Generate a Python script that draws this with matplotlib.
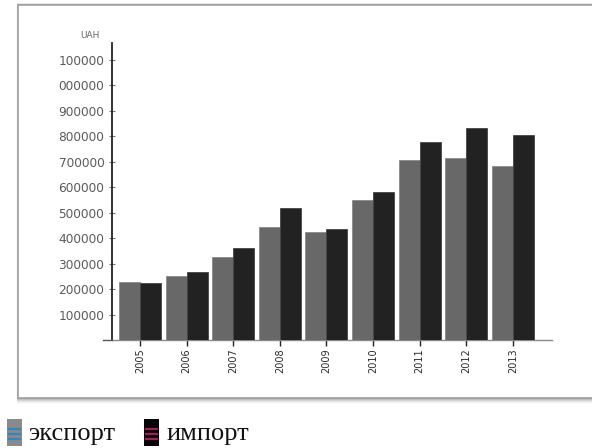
import matplotlib
matplotlib.use("Agg")
import matplotlib.pyplot as plt
from matplotlib.patches import Rectangle
import numpy as np

# Trade volumes, UAH
years = ["2005", "2006", "2007", "2008", "2009", "2010", "2011", "2012", "2013"]
export_vals = [229000, 251000, 324000, 445000, 425000, 549000, 706000, 715000, 682000]
import_vals = [222000, 268000, 362000, 518000, 435000, 579000, 778000, 830000, 804000]
y_ticks = [100000, 200000, 300000, 400000, 500000, 600000, 700000, 800000, 900000, 1000000, 1100000]
y_tick_labels = ["100000", "200000", "300000", "400000", "500000", "600000",
                 "700000", "800000", "900000", "000000", "100000"]
unit_label = "UAH"
legend_labels = ["экспорт", "импорт"]

W, H = 592, 448
fig = plt.figure(figsize=(W / 100, H / 100), dpi=100)
fig.patch.set_facecolor("white")


def fx(px):
    return px / W


def fy(py):
    return 1 - py / H


def box(x0, y0, x1, y1, **kw):
    """Rectangle in pixel coordinates (origin top-left)."""
    r = Rectangle((fx(x0), fy(y1)), fx(x1) - fx(x0), (y1 - y0) / H,
                  transform=fig.transFigure, **kw)
    fig.patches.append(r)
    return r


# soft drop shadow around the chart frame
for i, a in enumerate([0.12, 0.09, 0.07, 0.05, 0.03, 0.02]):
    d = i + 1
    box(18 - d * 0.3, 5 - d * 0.4, 620, 398 + d, facecolor="black",
        edgecolor="none", alpha=a, zorder=0)
# frame
box(18, 5, 620, 398, facecolor="white", edgecolor="#a0a0a0", linewidth=1.2, zorder=1)

# plot area
ax_left, ax_right, ax_top, ax_bottom = 112, 552, 43, 340
ax = fig.add_axes([fx(ax_left), fy(ax_bottom), fx(ax_right) - fx(ax_left),
                   (ax_bottom - ax_top) / H])
ax.set_zorder(2)
ax.patch.set_alpha(0)

x = np.arange(len(years))
bw = 0.45
ax.bar(x - bw / 2, export_vals, width=bw, color="#686868", edgecolor="#8a8a8a",
       linewidth=0.6, zorder=3)
ax.bar(x + bw / 2, import_vals, width=bw, color="#222222", edgecolor="#444444",
       linewidth=0.6, zorder=3)

ax.set_xlim(-0.6, 8.84)
ax.set_ylim(0, 1165000)

ax.set_yticks(y_ticks)
ax.set_yticklabels(y_tick_labels, fontsize=8.7, color="#5a5a5a", family="DejaVu Sans")
ax.set_xticks(x)
ax.set_xticklabels(years, rotation=90, fontsize=7, color="#2a2a2a", family="DejaVu Sans")

for s in ["top", "right"]:
    ax.spines[s].set_visible(False)
ax.spines["left"].set_color("#222222")
ax.spines["left"].set_linewidth(1.3)
ax.spines["bottom"].set_color("#8a8a8a")
ax.spines["bottom"].set_linewidth(1.0)

# baseline stub reaching past the value axis
ax.plot([-0.6 - 9 / 46.6, -0.6], [0, 0], color="#555555", linewidth=1.0,
        clip_on=False, zorder=4)

ax.tick_params(axis="y", direction="inout", length=5, width=0.8, color="#777777", pad=3)
ax.tick_params(axis="x", direction="out", length=4, width=1.0, color="#222222", pad=2)

fig.text(fx(100), fy(35), unit_label, ha="right", va="center", fontsize=6.5,
         color="#666666", family="DejaVu Sans")

# legend below the frame
swatches = [(7, 22, "#8a8a8a", "#2f86c4"), (144, 159, "#050505", "#a0205a")]
text_x = [28, 166]
for (x0, x1, fc, lc), tx, lab in zip(swatches, text_x, legend_labels):
    box(x0, 419, x1, 446, facecolor=fc, edgecolor="none", zorder=2)
    for ly in (429, 434, 439):
        fig.add_artist(plt.Line2D([fx(x0 + 2), fx(x1 - 2)], [fy(ly), fy(ly)],
                                  transform=fig.transFigure, color=lc, linewidth=1.6,
                                  zorder=3))
    fig.text(fx(tx), fy(440), lab, ha="left", va="baseline", fontsize=19,
             family="Liberation Serif", color="#111111")

fig.savefig("out.png", dpi=100)
